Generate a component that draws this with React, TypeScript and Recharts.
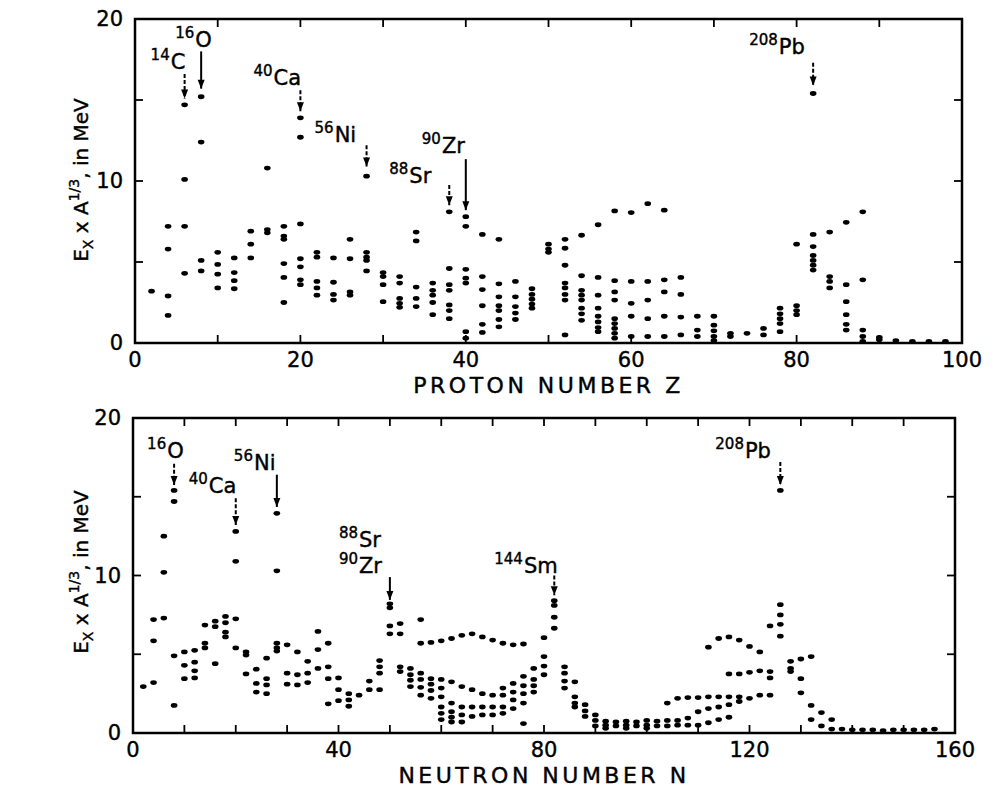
import React from 'react';
import { ScatterChart, Scatter, XAxis, YAxis, ReferenceLine, ReferenceArea, Label } from 'recharts';

// E_x * A^(1/3) in MeV, grouped by proton number Z: [Z, [values...]]
type Column = [number, number[]];

const protonLight: Column[] = [
  [2, [3.2]],
  [4, [7.2, 5.8, 2.9, 1.7]],
  [6, [14.7, 10.1, 7.2, 4.3]],
  [8, [15.2, 12.4, 5.1, 4.45]],
  [10, [5.6, 4.85, 4.25, 3.4]],
  [12, [5.25, 4.35, 3.85, 3.35]],
  [14, [6.9, 6.1, 5.25]],
  [16, [10.8, 7.0, 6.8]],
  [18, [7.2, 6.6, 6.4, 4.9, 4.05, 2.5]],
  [20, [13.9, 12.7, 7.35, 5.2, 4.7, 3.9, 3.6]],
  [22, [5.6, 5.3, 3.8, 3.4, 2.95]],
  [24, [5.25, 3.75, 3.0, 2.65]],
  [26, [6.4, 5.2, 3.15, 2.95]],
  [28, [10.3, 5.6, 5.3, 5.1, 4.45]],
];

const protonMid: Column[] = [
  [30, [4.35, 4.1, 3.6, 2.55]],
  [32, [4.1, 3.7, 2.75, 2.45, 2.2]],
  [34, [6.85, 6.3, 3.45, 2.75, 2.25]],
  [36, [3.7, 3.25, 2.95, 2.5, 1.75]],
  [38, [8.1, 4.6, 3.6, 3.25, 2.35, 2.0, 1.5]],
  [40, [7.8, 7.2, 4.55, 4.0, 3.7, 0.7, 0.3]],
  [42, [6.7, 4.1, 3.3, 2.3, 1.15, 0.65]],
  [44, [6.4, 3.65, 2.85, 2.3, 2.0, 1.45, 1.0]],
  [46, [3.8, 2.85, 2.25, 1.85, 1.45]],
  [48, [3.35, 3.0, 2.7, 2.4, 2.15]],
  [50, [6.1, 5.8, 5.6]],
  [52, [6.4, 5.85, 4.8, 3.7, 3.4, 3.0, 2.65, 0.5]],
  [54, [6.65, 4.15, 3.25, 2.95, 2.65, 2.15, 1.8, 1.4]],
  [56, [7.3, 4.05, 2.95, 2.15, 1.65, 1.3, 0.95, 0.7]],
  [58, [8.15, 3.85, 3.15, 2.65, 1.5, 1.2, 0.9, 0.6, 0.3]],
  [60, [8.05, 3.8, 2.45, 1.65, 0.4]],
  [62, [8.6, 3.8, 2.65, 1.5, 0.4]],
  [64, [8.2, 3.9, 3.15, 1.65, 0.4]],
];

const protonHeavy: Column[] = [
  [66, [4.05, 3.0, 1.6, 0.5]],
  [68, [1.65, 0.8, 0.4]],
  [70, [1.65, 1.1, 0.75, 0.4, 0.15]],
  [72, [0.6, 0.4]],
  [74, [0.6]],
  [76, [0.9, 0.5]],
  [78, [2.15, 1.8, 1.5, 1.2, 0.7]],
  [80, [6.1, 2.3, 2.0, 1.75]],
  [82, [15.4, 6.7, 5.95, 5.4, 5.1, 4.8, 4.5]],
  [84, [6.85, 4.1, 3.8, 3.4]],
  [86, [7.45, 3.6, 2.55, 1.75, 1.15, 0.8]],
  [88, [8.1, 3.9, 0.8, 0.4, 0.1]],
  [90, [0.35, 0.2]],
  [92, [0.15]],
  [94, [0.1]],
  [96, [0.1]],
  [98, [0.1]],
];

// same quantity grouped by neutron number N
const neutronLight: Column[] = [
  [2, [2.95]],
  [4, [7.2, 5.85, 3.2]],
  [6, [12.5, 10.2, 7.3]],
  [8, [15.4, 14.7, 4.9, 1.75]],
  [10, [5.15, 4.3, 3.45]],
  [12, [5.25, 4.5, 3.95, 3.5]],
  [14, [6.85, 5.7, 5.4]],
  [16, [7.1, 6.75, 4.4]],
  [18, [7.4, 7.0, 6.4, 6.1]],
  [20, [12.8, 10.9, 7.25, 5.4]],
  [22, [5.15, 4.95, 3.75]],
  [24, [4.05, 3.15, 2.6]],
  [26, [4.75, 3.45, 3.05, 2.5]],
  [28, [13.95, 10.3, 5.7, 5.4, 5.2]],
  [30, [5.6, 3.8, 3.1]],
  [32, [5.15, 3.7, 3.05]],
  [34, [4.55, 3.8, 3.2]],
  [36, [6.45, 5.3, 4.1]],
  [38, [5.7, 4.2, 3.45, 1.85]],
  [40, [3.5, 2.75, 2.05]],
  [42, [2.5, 2.1, 1.7]],
  [44, [2.4]],
  [46, [3.3, 2.75]],
  [48, [4.6, 4.2, 3.8, 2.75]],
];

const neutronMid: Column[] = [
  [50, [8.2, 7.95, 6.8, 6.3]],
  [52, [6.95, 6.3, 4.2, 3.9]],
  [54, [4.1, 3.7, 3.35, 2.95]],
  [56, [7.2, 5.7, 3.8, 3.4, 2.9, 2.4]],
  [58, [5.75, 3.45, 3.1, 2.7, 2.2]],
  [60, [5.85, 3.4, 2.85, 2.3, 1.65, 1.25, 0.85]],
  [62, [6.0, 3.25, 1.9, 1.35, 1.0, 0.7]],
  [64, [6.2, 2.95, 1.65, 1.15, 0.7]],
  [66, [6.3, 2.75, 1.65, 1.05]],
  [68, [6.1, 2.5, 1.65, 1.15]],
  [70, [5.9, 2.4, 1.65, 1.15]],
  [72, [5.7, 2.85, 2.4, 1.65, 1.25]],
  [74, [5.6, 3.15, 2.6, 2.1, 1.55]],
  [76, [5.65, 3.6, 3.0, 2.5, 1.9, 0.6]],
  [78, [4.1, 3.4, 3.0, 2.6]],
  [80, [6.05, 4.85, 4.25, 3.7]],
  [82, [8.4, 8.1, 7.35, 6.65]],
  [84, [4.2, 3.8, 3.3, 2.85]],
  [86, [3.25, 2.3, 1.9, 1.65]],
  [88, [1.8, 1.4, 1.05]],
  [90, [1.15, 0.8, 0.45]],
  [92, [0.75, 0.5, 0.3]],
  [94, [0.7, 0.45]],
  [96, [0.75, 0.5, 0.3]],
  [98, [0.7, 0.45]],
  [100, [0.8, 0.5, 0.3]],
  [102, [0.75, 0.45]],
];

const neutronHeavy: Column[] = [
  [104, [1.9, 0.8, 0.45]],
  [106, [2.2, 0.8, 0.5]],
  [108, [2.25, 0.95, 0.5]],
  [110, [2.25, 1.35, 0.5]],
  [112, [5.45, 2.3, 1.55, 0.65]],
  [114, [6.0, 2.3, 1.65, 0.85]],
  [116, [6.1, 3.75, 2.3, 1.8, 1.0]],
  [118, [5.9, 3.75, 2.3, 2.0]],
  [120, [5.5, 3.85, 2.2]],
  [122, [5.15, 3.95, 2.4]],
  [124, [6.8, 3.9, 3.5, 2.4]],
  [126, [15.4, 8.15, 7.5, 6.9, 6.15]],
  [128, [4.55, 4.1, 3.9]],
  [130, [4.7, 3.45, 2.55]],
  [132, [4.85, 1.75, 0.85]],
  [134, [1.3, 0.45]],
  [136, [0.85, 0.25]],
  [138, [0.25]],
  [140, [0.2]],
  [142, [0.2]],
  [144, [0.2]],
  [146, [0.15]],
  [148, [0.2]],
  [150, [0.2]],
  [152, [0.2]],
  [154, [0.2]],
  [156, [0.25]],
];

const protonTicks = [0, 10, 20, 30, 40, 50, 60, 70, 80, 90, 100];
const neutronTicks = [0, 10, 20, 30, 40, 50, 60, 70, 80, 90, 100, 110, 120, 130, 140, 150, 160];
const energyTicks = [0, 5, 10, 15, 20];

interface Marker {
  mass: string;
  sym: string;
  x: number;
  tail: number;
  tip: number;
  dashed?: boolean;
  noArrow?: boolean;
}

const protonMarkers: Marker[] = [
  { mass: '14', sym: 'C', x: 6, tail: 16.6, tip: 15.1, dashed: true },
  { mass: '16', sym: 'O', x: 8, tail: 18.0, tip: 15.7 },
  { mass: '40', sym: 'Ca', x: 20, tail: 15.6, tip: 14.3, dashed: true },
  { mass: '56', sym: 'Ni', x: 28, tail: 12.2, tip: 10.9, dashed: true },
  { mass: '88', sym: 'Sr', x: 38, tail: 9.75, tip: 8.5, dashed: true },
  { mass: '90', sym: 'Zr', x: 40, tail: 11.35, tip: 8.2 },
  { mass: '208', sym: 'Pb', x: 82, tail: 17.3, tip: 15.9, dashed: true },
];

const neutronMarkers: Marker[] = [
  { mass: '16', sym: 'O', x: 8, tail: 17.1, tip: 15.75, dashed: true },
  { mass: '40', sym: 'Ca', x: 20, tail: 14.9, tip: 13.2, dashed: true },
  { mass: '56', sym: 'Ni', x: 28, tail: 16.4, tip: 14.35 },
  { mass: '88', sym: 'Sr', x: 50, tail: 9.9, tip: 9.9, noArrow: true },
  { mass: '90', sym: 'Zr', x: 50, tail: 9.9, tip: 8.45 },
  { mass: '144', sym: 'Sm', x: 82, tail: 10.0, tip: 8.75, dashed: true },
  { mass: '208', sym: 'Pb', x: 126, tail: 17.2, tip: 15.75, dashed: true },
];

// pixel nudges of label text relative to the arrow tail
const protonNudge: Record<string, [number, number]> = {
  '14C': [-34, -5], '16O': [-26, -4], '40Ca': [-47, -5], '56Ni': [-52, -3],
  '88Sr': [-60, -2], '90Zr': [-44, -6], '208Pb': [-64, -9],
};
const neutronNudge: Record<string, [number, number]> = {
  '16O': [-27, -6], '40Ca': [-47, -5], '56Ni': [-43, -5], '88Sr': [-51, -30],
  '90Zr': [-51, -4], '144Sm': [-60, -3], '208Pb': [-65, -4],
};

const FONT = 'DejaVu Sans, Liberation Sans, sans-serif';
const Y_AXIS_W = 60;
const X_AXIS_H = 30;
const TICK_PX = 8;

const flatten = (cols: Column[]) =>
  cols.flatMap(([x, ys]) => ys.map((y) => ({ x, y })));

const Dot = (p: any) => <ellipse cx={p.cx} cy={p.cy} rx={3.3} ry={2.4} fill="#000" />;

const Head = (p: any) => (
  <polygon points={`${p.cx - 3.5},${p.cy - 9} ${p.cx + 3.5},${p.cy - 9} ${p.cx},${p.cy}`} fill="#000" />
);

const makeTag = (nudge: Record<string, [number, number]>) => (p: any) => {
  const key = p.payload.mass + p.payload.sym;
  const [dx, dy] = nudge[key] || [0, 0];
  return (
    <text x={p.cx + dx} y={p.cy + dy} fill="#000" fontFamily={FONT} stroke="#000" strokeWidth={0.4}>
      <tspan fontSize={15} dy={-9}>{p.payload.mass}</tspan>
      <tspan fontSize={21} dy={9} dx={1}>{p.payload.sym}</tspan>
    </text>
  );
};

interface PanelProps {
  columns: Column[][];
  markers: Marker[];
  nudge: Record<string, [number, number]>;
  xMax: number;
  ticks: number[];
  labelEvery: number;
  title: string;
  height: number;
  margin: { top: number; right: number; bottom: number; left: number };
}

const tickFont = { fill: '#000', fontSize: 21, fontFamily: FONT, stroke: '#000', strokeWidth: 0.4 };

const Panel = ({ columns, markers, nudge, xMax, ticks, labelEvery, title, height, margin }: PanelProps) => {
  const dots = columns.flatMap(flatten);
  const arrows = markers.filter((m) => !m.noArrow);
  const heads = arrows.map((m) => ({ x: m.x, y: m.tip }));
  const tags = markers.map((m) => ({ x: m.x, y: m.tail, mass: m.mass, sym: m.sym }));

  // inward tick length converted to data units
  const plotW = 995 - margin.left - Y_AXIS_W - margin.right;
  const plotH = height - margin.top - margin.bottom - X_AXIS_H;
  const dxTick = (TICK_PX * xMax) / plotW;
  const dyTick = (TICK_PX * 20) / plotH;

  const tickSegs: { x: number; y: number }[][] = [];
  ticks.forEach((t) => {
    tickSegs.push([{ x: t, y: 0 }, { x: t, y: dyTick }]);
    tickSegs.push([{ x: t, y: 20 }, { x: t, y: 20 - dyTick }]);
  });
  energyTicks.forEach((t) => {
    tickSegs.push([{ x: 0, y: t }, { x: dxTick, y: t }]);
    tickSegs.push([{ x: xMax, y: t }, { x: xMax - dxTick, y: t }]);
  });

  return (
    <ScatterChart width={995} height={height} margin={margin}>
      <XAxis
        type="number"
        dataKey="x"
        domain={[0, xMax]}
        ticks={ticks}
        interval={0}
        allowDataOverflow
        tickFormatter={(v: number) => (v % labelEvery === 0 ? String(v) : '')}
        tickSize={0}
        tickMargin={9}
        axisLine={false}
        tickLine={false}
        tick={tickFont}
        height={X_AXIS_H}
      >
        <Label
          value={title}
          position="bottom"
          offset={4}
          fontSize={22}
          fill="#000"
          stroke="#000"
          strokeWidth={0.4}
          fontFamily={FONT}
          letterSpacing={3.5}
        />
      </XAxis>
      <YAxis
        type="number"
        dataKey="y"
        domain={[0, 20]}
        ticks={energyTicks}
        interval={0}
        allowDataOverflow
        tickFormatter={(v: number) => (v % 10 === 0 ? String(v) : '')}
        tickSize={0}
        tickMargin={12}
        axisLine={false}
        tickLine={false}
        tick={tickFont}
        width={Y_AXIS_W}
      />
      <ReferenceArea x1={0} x2={xMax} y1={0} y2={20} fill="none" fillOpacity={0} stroke="#000" strokeWidth={2.5} />
      {tickSegs.map((seg, i) => (
        <ReferenceLine key={'t' + i} segment={seg} stroke="#000" strokeWidth={1.8} />
      ))}
      {arrows.map((m) => (
        <ReferenceLine
          key={m.mass + m.sym}
          segment={[{ x: m.x, y: m.tail }, { x: m.x, y: m.tip }]}
          stroke="#000"
          strokeWidth={2}
          strokeDasharray={m.dashed ? '4 2' : undefined}
        />
      ))}
      <Scatter data={dots} shape={Dot} isAnimationActive={false} />
      <Scatter data={heads} shape={Head} isAnimationActive={false} />
      <Scatter data={tags} shape={makeTag(nudge)} isAnimationActive={false} />
    </ScatterChart>
  );
};

const YTitle = ({ cx, cy }: { cx: number; cy: number }) => (
  <text
    transform={`rotate(-90 ${cx} ${cy})`}
    x={cx}
    y={cy}
    textAnchor="middle"
    fill="#000"
    fontFamily={FONT}
    fontSize={20}
    stroke="#000"
    strokeWidth={0.4}
  >
    E<tspan fontSize={14} dy={5}>X</tspan>
    <tspan dy={-5}> x A</tspan>
    <tspan fontSize={14} dy={-9}>1/3</tspan>
    <tspan dy={9}>, in MeV</tspan>
  </text>
);

export default function App() {
  return (
    <div style={{ position: 'absolute', left: 0, top: 0, width: 995, height: 795, background: '#fff' }}>
      <div style={{ position: 'absolute', left: 0, top: 0 }}>
        <Panel
          columns={[protonLight, protonMid, protonHeavy]}
          markers={protonMarkers}
          nudge={protonNudge}
          xMax={100}
          ticks={protonTicks}
          labelEvery={20}
          title="PROTON NUMBER Z"
          height={400}
          margin={{ top: 19, right: 33, bottom: 27, left: 75 }}
        />
      </div>
      <div style={{ position: 'absolute', left: 0, top: 400 }}>
        <Panel
          columns={[neutronLight, neutronMid, neutronHeavy]}
          markers={neutronMarkers}
          nudge={neutronNudge}
          xMax={160}
          ticks={neutronTicks}
          labelEvery={40}
          title="NEUTRON NUMBER N"
          height={395}
          margin={{ top: 18, right: 40, bottom: 32, left: 73 }}
        />
      </div>
      <svg width={995} height={795} style={{ position: 'absolute', left: 0, top: 0, pointerEvents: 'none' }}>
        <YTitle cx={88} cy={180} />
        <YTitle cx={88} cy={572} />
      </svg>
    </div>
  );
}
